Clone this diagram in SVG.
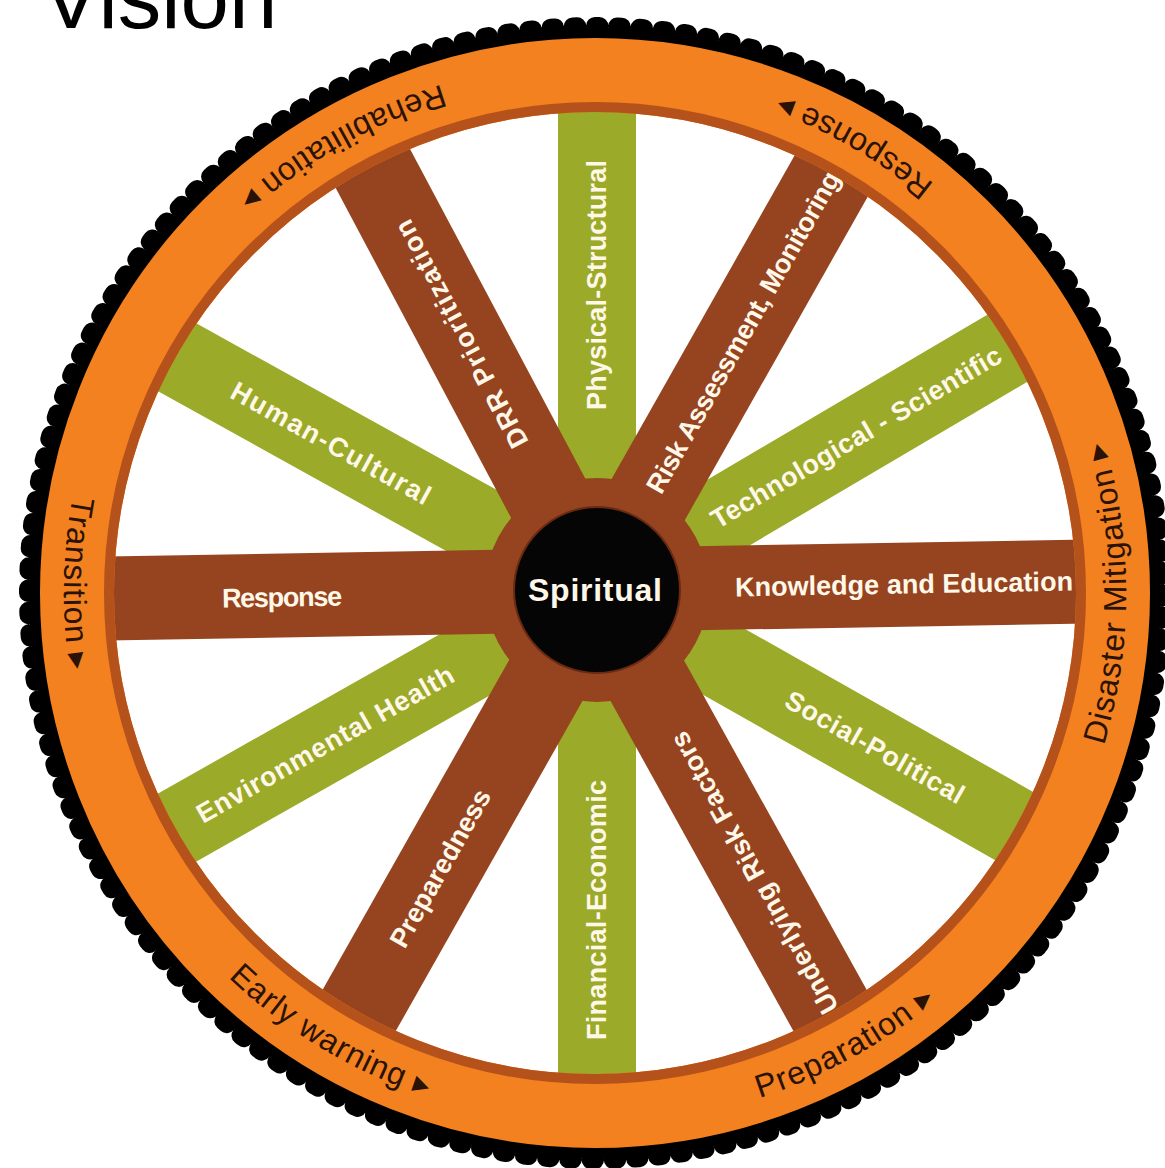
<svg xmlns="http://www.w3.org/2000/svg" width="1165" height="1168" viewBox="0 0 1165 1168">
<style>
.g{stroke:#9BAA28;stroke-width:78;stroke-linecap:butt}
.b{stroke:#95441F;stroke-width:84;stroke-linecap:butt}
.lbl{font-family:"Liberation Sans",Arial,sans-serif;font-weight:bold;font-size:27px;fill:#FFF7E8;text-anchor:middle}
.ring{font-family:"Liberation Sans",Arial,sans-serif;font-size:32px;fill:#2A1206;letter-spacing:1px;text-anchor:middle}
</style>
<defs>
<path id="rp" d="M595 1124A531 531 0 1 0 595 62A531 531 0 1 0 595 1124"/>
</defs>
<rect width="1165" height="1168" fill="#fff"/>
<text id="title" x="42" y="28" font-family="'Liberation Sans',Arial,sans-serif" font-size="87" fill="#000">Vision</text>

<g id="wheel-teeth">
<circle cx="595" cy="593" r="566" fill="#000"/>
<circle cx="595" cy="593" r="567" fill="none" stroke="#000" stroke-width="18" stroke-linecap="round" stroke-dasharray="0.2 0.8" pathLength="160"/>
<circle cx="595" cy="593" r="553" fill="#fff"/>
</g>

<g id="green-spokes">
<g id="physical-structural"><line class="g" x1="597" y1="590" x2="597" y2="85"/><text class="lbl" transform="translate(597,285) rotate(-90)" dy="0.35em" textLength="250">Physical-Structural</text></g>
<g id="financial-economic"><line class="g" x1="597" y1="590" x2="597" y2="1095"/><text class="lbl" transform="translate(597,910) rotate(-90)" dy="0.35em" textLength="260">Financial-Economic</text></g>
<g id="human-cultural"><line class="g" x1="597" y1="590" x2="155.3" y2="345.2"/><text class="lbl" transform="translate(331,443) rotate(29)" dy="0.35em" textLength="224">Human-Cultural</text></g>
<g id="technological-scientific"><line class="g" x1="597" y1="590" x2="1032.1" y2="333.7"/><text class="lbl" transform="translate(856,437) rotate(-30.5)" dy="0.35em" textLength="332">Technological - Scientific</text></g>
<g id="environmental-health"><line class="g" x1="597" y1="590" x2="157.4" y2="838.7"/><text class="lbl" transform="translate(325,744) rotate(-29.5)" dy="0.35em" textLength="291">Environmental Health</text></g>
<g id="social-political"><line class="g" x1="597" y1="590" x2="1036.6" y2="838.7"/><text class="lbl" transform="translate(875,747) rotate(29.5)" dy="0.35em" textLength="201">Social-Political</text></g>
</g>

<g id="brown-spokes">
<g id="response-spoke"><line class="b" x1="597" y1="590" x2="92.1" y2="598.8"/></g>
<g id="knowledge-spoke"><line class="b" x1="597" y1="590" x2="1101.9" y2="581.2"/></g>
<g id="risk-spoke"><line class="b" x1="597" y1="590" x2="845.7" y2="150.4"/></g>
<g id="preparedness-spoke"><line class="b" x1="597" y1="590" x2="348.3" y2="1029.6"/></g>
<g id="drr-spoke"><line class="b" x1="597" y1="590" x2="359.9" y2="144.1"/></g>
<g id="underlying-spoke"><line class="b" x1="597" y1="590" x2="841.8" y2="1031.7"/></g>
<circle cx="597" cy="590" r="112" fill="#95441F"/>
</g>

<g id="brown-labels">
<text class="lbl" transform="translate(282,597) rotate(-1)" dy="0.35em" textLength="120">Response</text>
<text class="lbl" transform="translate(904,584) rotate(-1)" dy="0.35em" textLength="338">Knowledge and Education</text>
<text class="lbl" transform="translate(461,334) rotate(-118)" dy="0.35em" textLength="254">DRR Prioritization</text>
<text class="lbl" transform="translate(743,332) rotate(-60.5)" dy="0.35em" textLength="365">Risk Assessment, Monitoring</text>
<text class="lbl" transform="translate(440,868) rotate(-60.5)" dy="0.35em" textLength="177">Preparedness</text>
<text class="lbl" transform="translate(754,873) rotate(-119)" dy="0.35em" textLength="318">Underlying Risk Factors</text>
</g>

<g id="spiritual">
<circle cx="597" cy="590" r="83" fill="#050505" stroke="#6A2A12" stroke-width="2"/>
<text x="595" y="590" dy="0.35em" font-family="'Liberation Sans',Arial,sans-serif" font-weight="bold" font-size="32" fill="#FFF7E8" text-anchor="middle" textLength="134">Spiritual</text>
</g>

<g id="rim">
<circle cx="595" cy="593" r="518" fill="none" stroke="#F3811F" stroke-width="74"/>
<circle cx="595" cy="593" r="486" fill="none" stroke="#B5521B" stroke-width="10"/>
</g>

<g id="rim-labels">
<text class="ring"><textPath href="#rp" startOffset="268.8">Preparation ▸</textPath></text>
<text class="ring"><textPath href="#rp" startOffset="834.1">Disaster Mitigation ▸</textPath></text>
<text class="ring"><textPath href="#rp" startOffset="1390.2">Response ▸</textPath></text>
<text class="ring"><textPath href="#rp" startOffset="1941.6">Rehabilitation ▸</textPath></text>
<text class="ring"><textPath href="#rp" startOffset="2493">Transition ▸</textPath></text>
<text class="ring"><textPath href="#rp" startOffset="3049.1">Early warning ▸</textPath></text>
</g>
</svg>
